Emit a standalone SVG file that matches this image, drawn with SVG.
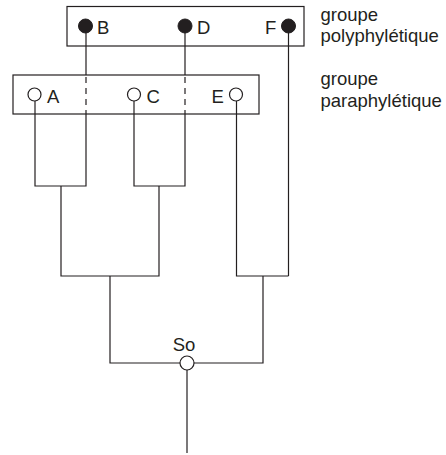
<svg xmlns="http://www.w3.org/2000/svg" width="446" height="455" viewBox="0 0 446 455">
<style>
.ln{fill:none;stroke:#231f20;stroke-width:1.2}
.dash{fill:none;stroke:#231f20;stroke-width:1.2;stroke-dasharray:6,5}
.box{fill:#fff;stroke:#231f20;stroke-width:1.2}
.fd{fill:#231f20;stroke:#231f20;stroke-width:1}
.od{fill:#fff;stroke:#231f20;stroke-width:1.2}
text{font-family:"Liberation Sans",Arial,sans-serif;fill:#231f20}
.t{font-size:18.5px}
.lab{font-size:18.5px}
</style>
<rect width="446" height="455" fill="#fff"/>
<g id="polyphyletic-box"><rect class="box" x="67" y="6.5" width="237" height="39.5"/></g>
<g id="paraphyletic-box"><rect class="box" x="13" y="75" width="246" height="39"/></g>
<g id="connectors">
<path class="ln" d="M86 27V75M185 27V75M288.5 27V276"/>
<path class="dash" d="M86 77V114M185 77V114"/>
<path class="ln" d="M35 101V186H86V114M134 101V186H185V114"/>
<path class="ln" d="M61 186V276H159V186"/>
<path class="ln" d="M236.5 101V276H288.5"/>
<path class="ln" d="M110 276V363H180M194 363H263V276"/>
<path class="ln" d="M187 370V453"/>
</g>
<g id="node-B"><circle class="fd" cx="85.5" cy="26" r="7"/><text class="t" x="97" y="34">B</text></g>
<g id="node-D"><circle class="fd" cx="185" cy="26" r="7"/><text class="t" x="197" y="34">D</text></g>
<g id="node-F"><circle class="fd" cx="288.5" cy="26" r="7"/><text class="t" x="265" y="34">F</text></g>
<g id="node-A"><circle class="od" cx="34.5" cy="94.5" r="6.5"/><text class="t" x="47" y="102.5">A</text></g>
<g id="node-C"><circle class="od" cx="134" cy="94.5" r="6.5"/><text class="t" x="146.5" y="102.5">C</text></g>
<g id="node-E"><circle class="od" cx="236" cy="94.5" r="6.5"/><text class="t" x="211.5" y="102.5">E</text></g>
<g id="node-So"><circle class="od" cx="187" cy="363" r="7"/><text class="t" x="184" y="351" text-anchor="middle">So</text></g>
<g id="legend">
<text class="lab" x="320.5" y="21">groupe</text>
<text class="lab" x="320.5" y="42">polyphylétique</text>
<text class="lab" x="320.5" y="85">groupe</text>
<text class="lab" x="320.5" y="107">paraphylétique</text>
</g>
</svg>
